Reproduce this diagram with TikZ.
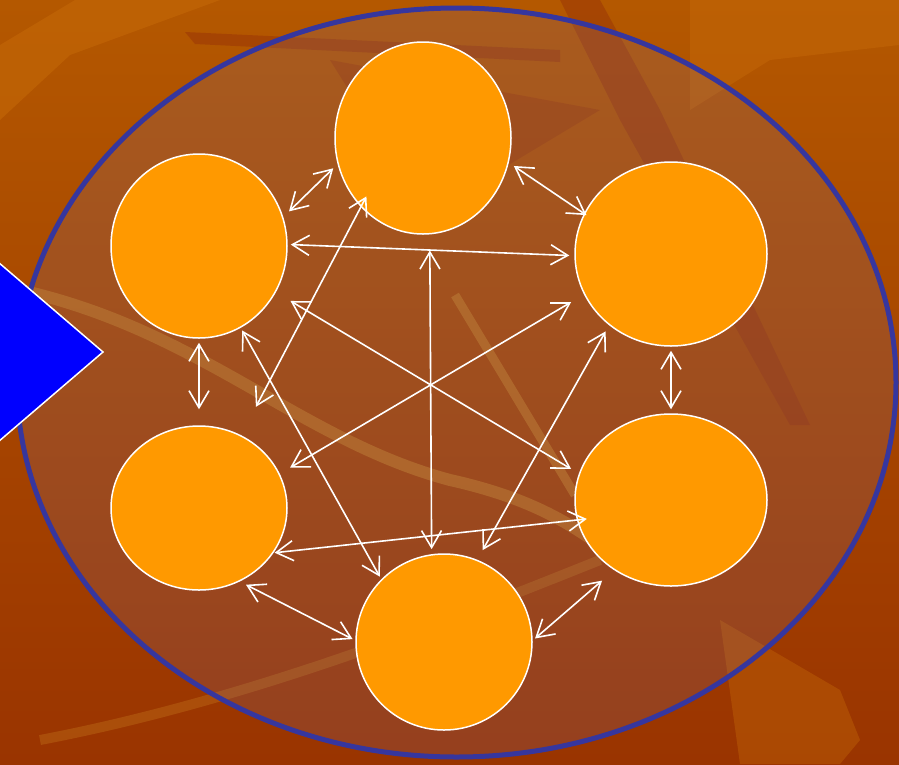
\documentclass[tikz,border=0pt]{standalone}
\usepackage{tikz}
\usetikzlibrary{shapes.geometric,arrows.meta}
\definecolor{bgtop}{RGB}{180,88,0}
\definecolor{bgbot}{RGB}{154,52,0}
\definecolor{bglight}{RGB}{196,104,8}
\definecolor{bgdark}{RGB}{150,48,8}
\definecolor{streak}{RGB}{206,134,36}
\definecolor{ringblue}{RGB}{54,54,158}
\definecolor{haze}{RGB}{130,110,150}
\definecolor{ballorange}{RGB}{255,153,0}
\tikzset{
  ball/.style={ellipse,draw=white,line width=1.5pt,fill=ballorange,inner sep=0pt},
  conn/.style={white,line width=1.6pt,{Straight Barb[length=17pt,width=20pt]}-{Straight Barb[length=17pt,width=20pt]}}
}
\begin{document}
\begin{tikzpicture}[x=1pt,y=-1pt]
        \useasboundingbox (0,0) rectangle (899,764);
        \shade[top color=bgtop,bottom color=bgbot] (0,0) rectangle (899,764);
        % backdrop
        \fill[bglight,opacity=.6] (0,45) -- (75,0) -- (220,0) -- (70,55) -- (0,120) -- cycle;
        \fill[bglight,opacity=.5] (690,0) -- (899,0) -- (899,45) -- (770,60) -- (690,110) -- cycle;
        \fill[bgdark,opacity=.45] (560,0) -- (600,0) -- (660,110) -- (810,425) -- (790,425) -- (620,120) -- cycle;
        \fill[bgdark,opacity=.45] (185,32) -- (560,50) -- (560,62) -- (195,44) -- cycle;
        \fill[bgdark,opacity=.35] (330,60) -- (600,110) -- (500,170) -- (380,140) -- cycle;
        \draw[streak,opacity=.5,line width=12pt] (20,290) .. controls (200,330) and (300,440) .. (450,480) .. controls (540,500) and (580,530) .. (620,560);
        \draw[streak,opacity=.5,line width=9pt] (455,295) -- (575,495);
        \draw[streak,opacity=.3,line width=10pt] (40,740) .. controls (250,700) and (450,620) .. (600,560);
        \fill[bglight,opacity=.4] (720,620) -- (840,690) -- (860,740) -- (840,764) -- (740,764) -- cycle;
        \filldraw[fill=haze,fill opacity=.2,draw=ringblue,line width=5pt] (456.5,382.5) ellipse (439.5 and 374.5);
        \filldraw[fill=blue,draw=white,line width=1.5pt] (-2,262) -- (103,352) -- (-2,442);
        \node[ball,minimum width=176pt,minimum height=192pt] (T) at (423,138) {};
        \node[ball,minimum width=176pt,minimum height=184pt] (UL) at (199,246) {};
        \node[ball,minimum width=192pt,minimum height=184pt] (UR) at (671,254) {};
        \node[ball,minimum width=176pt,minimum height=164pt] (LL) at (199,508) {};
        \node[ball,minimum width=192pt,minimum height=172pt] (LR) at (671,500) {};
        \node[ball,minimum width=176pt,minimum height=176pt] (B) at (444,642) {};
        % from / angle / gap -- to / angle / gap
        \foreach \a/\p/\s/\b/\q/\t in {UL/19/8/T/197/6, T/344/6/UR/155/-3, UL/1/3/UR/181/5,
            T/228/-12/LL/60/32, T/274/16/B/98/5, UL/329/17/LR/164/9, UR/205/15/LL/23/12,
            UR/229/7/B/68/11, UL/297/3/B/135/3, UL/270/4/LL/90/16, UR/270/4/LR/90/4,
            LL/329/1/LR/192/-10, LL/299/7/B/179/3, B/1/3/LR/231/16}
            \draw[conn,shorten <=\s pt,shorten >=\t pt] (\a.\p) -- (\b.\q);
    \end{tikzpicture}
\end{document}
